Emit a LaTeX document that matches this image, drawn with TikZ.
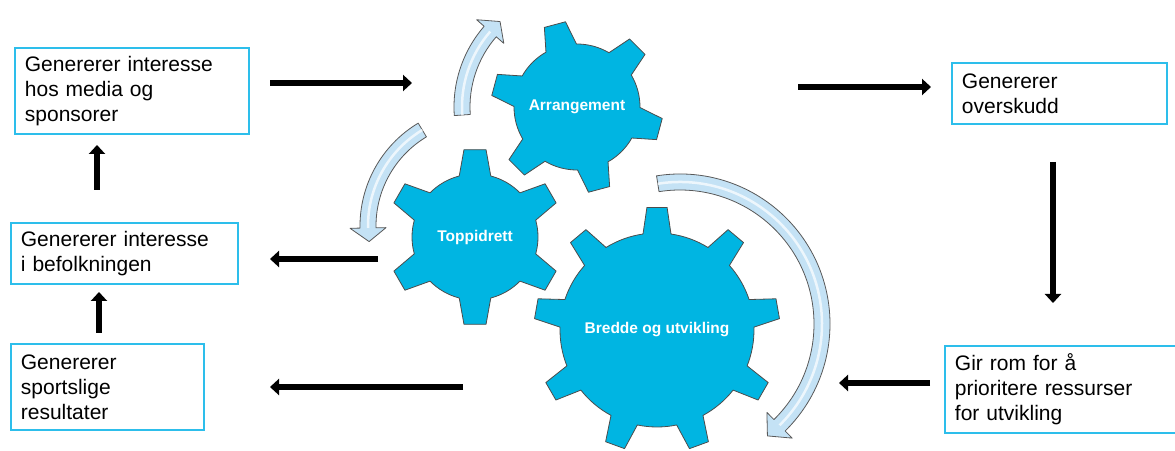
\documentclass[tikz,border=0pt]{standalone}
\usepackage{fontspec}
\setmainfont{Liberation Sans}
\usetikzlibrary{arrows.meta}

\definecolor{gearblue}{RGB}{0,181,226}
\definecolor{boxblue}{RGB}{45,190,235}
\definecolor{arcblue}{RGB}{196,226,245}

\tikzset{
  infobox/.style={draw=boxblue, line width=1.8pt, anchor=north west, align=left,
    inner xsep=10pt, font=\fontsize{21}{25}\selectfont},
  geartext/.style={text=white, font=\fontsize{15.5}{18}\selectfont\bfseries},
  gearshape/.style={fill=gearblue, draw=black!70, line width=0.8pt, line join=round},
  flowarrow/.style={line width=5.5pt, -{Triangle[length=9pt,width=16pt]}},
  turnshape/.style={fill=arcblue, draw=black!65, line width=0.8pt, line join=round}
}

% gear: center, body radius, tip radius, teeth, first tooth angle, half angle at base, half angle at tip
\newcommand{\drawgear}[7]{%
  \draw[gearshape, shift={#1}] ({#5-#6}:#2)
    \foreach \k in {1,...,#4} {
      -- ({#5+360/#4*(\k-1)-#6}:#2) -- ({#5+360/#4*(\k-1)-#7}:#3)
      -- ({#5+360/#4*(\k-1)+#7}:#3) -- ({#5+360/#4*(\k-1)+#6}:#2)
      arc[start angle={#5+360/#4*(\k-1)+#6}, end angle={#5+360/#4*\k-#6}, radius=#2]
    } -- cycle;}

% curved arrow: center, radius, start angle, end of band, angle of tip
\newcommand{\drawturn}[5]{%
  \begin{scope}[shift={#1}]
    \filldraw[turnshape] (#3:#2+8) arc[start angle=#3, end angle=#4, radius=#2+8]
      -- (#4:#2+18) -- (#5:#2) -- (#4:#2-18) -- (#4:#2-8)
      arc[start angle=#4, end angle=#3, radius=#2-8] -- cycle;
    \draw[white, line width=2.5pt, opacity=0.7] (#3:#2) arc[start angle=#3, end angle=#4, radius=#2];
  \end{scope}}

\begin{document}
\begin{tikzpicture}[x=1pt, y=1pt]
    \useasboundingbox (0,0) rectangle (1175,450);

    % boxes
    \node[infobox, text width=214pt, minimum height=86pt] (media) at (14,403)
        {Genererer interesse\\hos media og\\sponsorer};
    \node[infobox, text width=207pt, minimum height=61pt] (befolkning) at (10,228)
        {Genererer interesse\\i befolkningen};
    \node[infobox, text width=173pt, minimum height=86pt] (resultater) at (10,107)
        {Genererer\\sportslige\\resultater};
    \node[infobox, text width=195pt, minimum height=61pt] (overskudd) at (951,388)
        {Genererer\\overskudd};
    \node[infobox, text width=220pt, minimum height=87pt] (ressurser) at (944,105)
        {Gir rom for å\\prioritere ressurser\\for utvikling};

    % gears
    \drawgear{(577,343)}{63}{86}{6}{45}{14.5}{7.3}
    \drawgear{(475,213)}{63}{88}{6}{90}{14.5}{7.2}
    \drawgear{(657,120)}{97}{123}{9}{90}{8.3}{4.7}

    \node[geartext] (arrangement) at (577,343) {Arrangement};
    \node[geartext] (toppidrett) at (475,213) {Toppidrett};
    \node[geartext] (bredde) at (657,120) {Bredde og utvikling};

    % curved arrows
    \drawturn{(577,343)}{115}{184}{139}{132}
    \drawturn{(480,224)}{112}{121}{181}{188}
    \drawturn{(680,126)}{142}{99}{-45.5}{-52}

    % straight arrows
    \coordinate (m1) at (270,367);  \coordinate (m2) at (412,367);
    \coordinate (b1) at (97,260);   \coordinate (b2) at (97,305);
    \coordinate (r1) at (99,117);   \coordinate (r2) at (99,158);
    \coordinate (t1) at (378,191);  \coordinate (t2) at (270,191);
    \coordinate (u1) at (463,63);   \coordinate (u2) at (270,63);
    \coordinate (o1) at (798,363);  \coordinate (o2) at (931,363);
    \coordinate (d1) at (1053,288); \coordinate (d2) at (1053,147);
    \coordinate (p1) at (930,67);   \coordinate (p2) at (839,67);

    \draw[flowarrow] (m1) -- (m2);
    \draw[flowarrow] (b1) -- (b2);
    \draw[flowarrow] (r1) -- (r2);
    \draw[flowarrow] (t1) -- (t2);
    \draw[flowarrow] (u1) -- (u2);
    \draw[flowarrow] (o1) -- (o2);
    \draw[flowarrow] (d1) -- (d2);
    \draw[flowarrow] (p1) -- (p2);
\end{tikzpicture}
\end{document}
